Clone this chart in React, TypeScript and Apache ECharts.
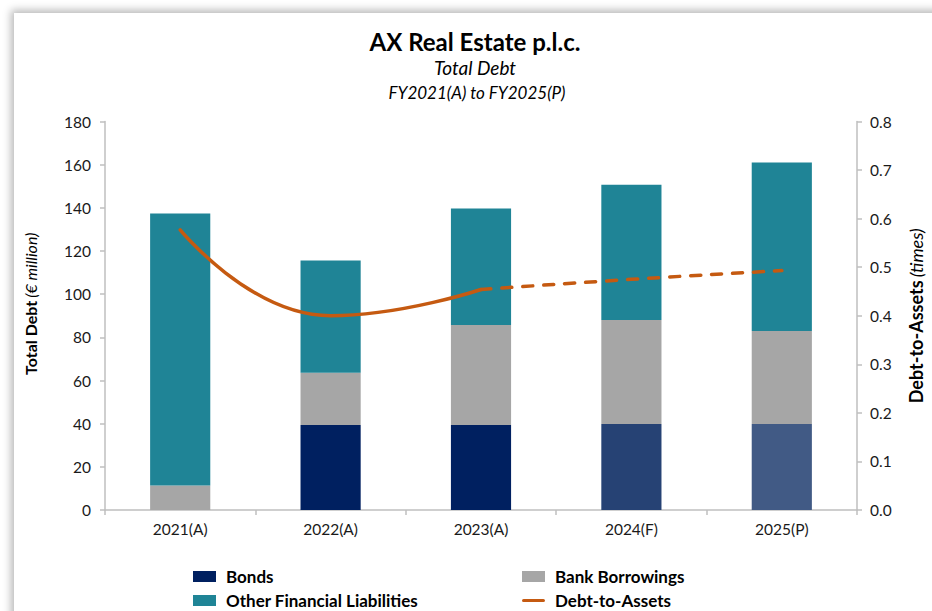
import React, { useEffect, useRef } from "react";
import * as echarts from "echarts";

const categories = ["2021(A)", "2022(A)", "2023(A)", "2024(F)", "2025(P)"];
const bonds = [0, 39.4, 39.4, 39.9, 39.9];
const bankBorrowings = [11.3, 24.2, 46.3, 48.1, 43.0];
const otherLiabilities = [126.1, 52.0, 54.0, 62.7, 78.1];
const debtToAssetsActual = [0.577, 0.4, 0.454, null, null];
const debtToAssetsProjected = [null, null, 0.454, 0.475, 0.493];
const bondColors = ["#002060", "#002060", "#002060", "#264274", "#415A85"];

const FONT = "Lato, 'Noto Sans', sans-serif";
const LINE_ICON = "path://M0,0 M0,11 M1.6,3.9 L21.4,3.9 A1.6,1.6 0 0 1 21.4,7.1 L1.6,7.1 A1.6,1.6 0 0 1 1.6,3.9 Z";

export default function App() {
  const ref = useRef<HTMLDivElement>(null);

  useEffect(() => {
    if (!ref.current) return;
    const chart = echarts.init(ref.current, null, { renderer: "svg" });
    const axisLabel = { color: "#1a1a1a", fontSize: 15.5, fontFamily: FONT };
    const axisLine = { show: true, lineStyle: { color: "#BFBFBF", width: 1.5 } };
    const axisTick = { show: true, length: 5, lineStyle: { color: "#BFBFBF", width: 1.5 } };
    const toNull = (v: number | null) => (v === null ? "-" : v);
    const legendText = {
      fontFamily: FONT,
      fontSize: 17,
      lineHeight: 17,
      fontWeight: "bold",
      color: "#000",
      padding: [0, 0, 0, 5],
    };
    const nameRich = (size: number) => ({
      b: { fontFamily: FONT, fontSize: size, fontWeight: "bold", color: "#000" },
      i: { fontFamily: FONT, fontSize: size, fontStyle: "italic", color: "#000" },
    });

    chart.setOption({
      animation: false,
      backgroundColor: "transparent",
      textStyle: { fontFamily: FONT },
      graphic: [
        {
          type: "text",
          x: 475,
          y: 41,
          style: {
            text: "AX Real Estate p.l.c.",
            fontFamily: FONT,
            fontSize: 24,
            fontWeight: "bold",
            fill: "#000",
            textAlign: "center",
            textVerticalAlign: "middle",
          },
        },
        {
          type: "text",
          x: 475,
          y: 67,
          style: {
            text: "Total Debt",
            fontFamily: FONT,
            fontSize: 19,
            fontStyle: "italic",
            fill: "#000",
            textAlign: "center",
            textVerticalAlign: "middle",
          },
        },
        {
          type: "text",
          x: 477,
          y: 92,
          style: {
            text: "FY2021(A) to FY2025(P)",
            fontFamily: FONT,
            fontSize: 17,
            fontStyle: "italic",
            fill: "#000",
            textAlign: "center",
            textVerticalAlign: "middle",
          },
        },
      ],
      legend: [
        {
          left: 193,
          top: 568,
          padding: 0,
          orient: "vertical",
          itemWidth: 23,
          itemHeight: 11,
          itemGap: 7,
          textStyle: legendText,
          data: [
            { name: "Bonds", icon: "rect" },
            { name: "Other Financial Liabilities", icon: "rect" },
          ],
        },
        {
          left: 522,
          top: 568,
          padding: 0,
          orient: "vertical",
          itemWidth: 23,
          itemHeight: 11,
          itemGap: 7,
          textStyle: legendText,
          data: [
            { name: "Bank Borrowings", icon: "rect" },
            { name: "Debt-to-Assets", icon: LINE_ICON },
          ],
        },
      ],
      grid: { left: 105, right: 75, top: 121.5, bottom: 101, containLabel: false, outerBoundsMode: "none" },
      xAxis: {
        type: "category",
        data: categories,
        axisLine,
        axisTick,
        axisLabel: { ...axisLabel, margin: 11 },
      },
      yAxis: [
        {
          type: "value",
          min: 0,
          max: 180,
          interval: 20,
          axisLine,
          axisTick,
          splitLine: { show: false },
          axisLabel: { ...axisLabel, margin: 14 },
          name: "{b|Total Debt} {i|(€ million)}",
          nameLocation: "middle",
          nameRotate: 90,
          nameGap: 67,
          nameTextStyle: { rich: nameRich(16), padding: [0, 0, 0, 24] },
        },
        {
          type: "value",
          min: 0,
          max: 0.8,
          interval: 0.1,
          position: "right",
          axisLine,
          axisTick,
          splitLine: { show: false },
          axisLabel: { ...axisLabel, margin: 13, formatter: (v: number) => v.toFixed(1) },
          name: "{b|Debt-to-Assets} {i|(times)}",
          nameLocation: "middle",
          nameRotate: 90,
          nameGap: 50,
          nameTextStyle: { rich: nameRich(18) },
        },
      ],
      series: [
        {
          name: "Bonds",
          type: "bar",
          stack: "debt",
          barWidth: "40%",
          itemStyle: { color: "#002060" },
          data: bonds.map((v, i) => ({ value: v, itemStyle: { color: bondColors[i] } })),
        },
        {
          name: "Bank Borrowings",
          type: "bar",
          stack: "debt",
          itemStyle: { color: "#A6A6A6" },
          data: bankBorrowings,
        },
        {
          name: "Other Financial Liabilities",
          type: "bar",
          stack: "debt",
          itemStyle: { color: "#1F8496" },
          data: otherLiabilities,
        },
        {
          name: "Debt-to-Assets",
          type: "line",
          yAxisIndex: 1,
          smooth: 0.5,
          symbol: "none",
          lineStyle: { color: "#C55A11", width: 3.5, cap: "round" },
          itemStyle: { color: "#C55A11" },
          data: debtToAssetsActual.map(toNull),
        },
        {
          name: "Debt-to-Assets (projected)",
          type: "line",
          yAxisIndex: 1,
          smooth: 0.5,
          symbol: "none",
          lineStyle: { color: "#C55A11", width: 3.5, type: [10, 11], cap: "round" },
          itemStyle: { color: "#C55A11" },
          data: debtToAssetsProjected.map(toNull),
        },
      ],
    });
    return () => chart.dispose();
  }, []);

  return (
    <div style={{ position: "fixed", left: 0, top: 0, width: 932, height: 611, overflow: "hidden", background: "#fff" }}>
      <div
        style={{
          position: "absolute",
          left: 14,
          top: 13,
          width: 960,
          height: 640,
          background: "#fff",
          boxShadow: "-3px -3px 8px rgba(0,0,0,0.28)",
        }}
      />
      <div ref={ref} style={{ position: "absolute", left: 0, top: 0, width: 932, height: 611 }} />
    </div>
  );
}
